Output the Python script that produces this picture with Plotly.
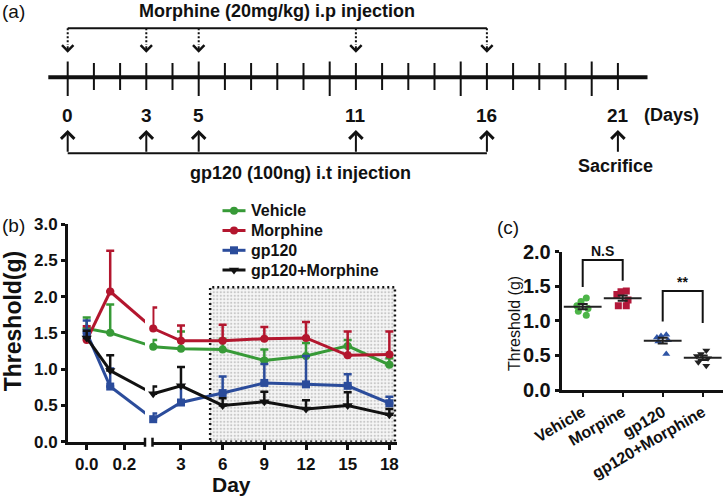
import numpy as np
import plotly.graph_objects as go

W, H = 728, 501
FONT = "Liberation Sans, Arial, sans-serif"

# ---------------- data: panel (b) ----------------
days = [0, 0.125, 1, 3, 6, 9, 12, 15, 18]
vehicle = [1.56, 1.50, 1.31, 1.28, 1.27, 1.12, 1.18, 1.32, 1.06]
vehicle_err = [0.15, 0.39, 0.09, 0.24, 0.15, 0.15, 0.18, 0.08, 0.09]
morphine = [1.40, 2.07, 1.56, 1.39, 1.39, 1.42, 1.43, 1.19, 1.20]
morphine_err = [0.19, 0.56, 0.29, 0.21, 0.22, 0.16, 0.22, 0.33, 0.32]
gp120 = [1.50, 0.76, 0.31, 0.54, 0.67, 0.81, 0.79, 0.77, 0.53]
gp120_err = [0.17, 0.25, 0.08, 0.22, 0.23, 0.26, 0.39, 0.16, 0.09]
gp120_morphine = [1.43, 0.98, 0.66, 0.77, 0.50, 0.55, 0.45, 0.50, 0.37]
gp120_morphine_err = [0.10, 0.21, 0.10, 0.26, 0.10, 0.14, 0.12, 0.18, 0.08]
series_names = ["Vehicle", "Morphine", "gp120", "gp120+Morphine"]
left_ticks = [0.0, 0.2]
right_ticks = [3, 6, 9, 12, 15, 18]
b_y_ticks = [0, 0.5, 1.0, 1.5, 2.0, 2.5, 3.0]
shade_days = [5.1, 18.4]
shade_top = 2.13

# ---------------- data: panel (c) ----------------
c_groups = ["Vehicle", "Morpine", "gp120", "gp120+Morphine"]
c_vehicle = [1.33, 1.28, 1.22, 1.18, 1.14, 1.08]
c_morpine = [1.43, 1.42, 1.38, 1.30, 1.22, 1.22]
c_gp120 = [0.80, 0.78, 0.76, 0.72, 0.70, 0.52]
c_gp120_morphine = [0.57, 0.52, 0.49, 0.46, 0.40, 0.35]
c_y_ticks = [0, 0.5, 1.0, 1.5, 2.0]
sig_labels = ["N.S", "**"]
sig_pairs = [(0, 1), (2, 3)]
sig_tops = [1.88, 1.43]
sig_leg_ends = [(1.49, 1.58), (0.99, 0.97)]

# ---------------- data: panel (a) ----------------
timeline_days = list(range(22))
major_days = [0, 5, 10, 15, 20]
morphine_days = [0, 3, 5, 11, 16]
gp120_days = [0, 3, 5, 11, 16]
label_days = [0, 3, 5, 11, 16, 21]
sacrifice_day = 21

# ---------------- layout geometry (pixels) ----------------
def pxx(p):
    return p / W


def pxy(p):
    return 1 - p / H


BL0, BL1 = 68.0, 145.0
BR0, BR1 = 152.5, 397.0
BY0, BY1 = 224.0, 441.7
left_range = [-0.0995, 0.31]
right_range = [0.95, 18.55]


def left_px(d):
    return BL0 + (d - left_range[0]) / (left_range[1] - left_range[0]) * (BL1 - BL0)


def right_px(d):
    return BR0 + (d - right_range[0]) / (right_range[1] - right_range[0]) * (BR1 - BR0)


def px_to_left(p):
    return left_range[0] + (p - BL0) / (BL1 - BL0) * (left_range[1] - left_range[0])


def px_to_right(p):
    return right_range[0] + (p - BR0) / (BR1 - BR0) * (right_range[1] - right_range[0])


CX0, CX1 = 561.7, 723.3
CY0, CY1 = 251.7, 390.0

A_DAY0_PX, A_PX_PER_DAY = 67.7, 26.2
a_range = [-A_DAY0_PX / A_PX_PER_DAY, (W - A_DAY0_PX) / A_PX_PER_DAY]
A_H = 200.0

# legend layout (pixels)
LEG_ROWS = [210.7, 230.5, 250.3, 270.0]
LEG_X0, LEG_X1, LEG_TX = 222.5, 245.5, 249.0

fig = go.Figure()

# ================= panel (b) =================
b_colors = ["#379a37", "#b3162e", "#2b4c9b", "#111111"]
b_symbols = ["circle", "circle", "square", "triangle-down"]
b_values = [vehicle, morphine, gp120, gp120_morphine]
b_errors = [vehicle_err, morphine_err, gp120_err, gp120_morphine_err]

# dotted shaded region
fig.add_trace(go.Scatter(
    x=[shade_days[0], shade_days[1], shade_days[1], shade_days[0], shade_days[0]],
    y=[0, 0, shade_top, shade_top, 0],
    mode="lines", fill="toself",
    fillcolor="#f4f4f4",
    fillpattern=dict(shape=".", size=3.5, solidity=0.35, fgcolor="#9a9a9a", bgcolor="#f6f6f6"),
    line=dict(color="#111111", width=2.5, dash="2px,3px"),
    xaxis="x2", yaxis="y", hoverinfo="skip"))

il = [i for i, d in enumerate(days) if d < 0.5]
ir = [i for i, d in enumerate(days) if d >= 0.5]

for name, vals, errs, col, sym in zip(series_names, b_values, b_errors, b_colors, b_symbols):
    msize = 9 if sym == "triangle-down" else 8
    # left segment
    fig.add_trace(go.Scatter(
        x=[days[i] for i in il], y=[vals[i] for i in il], mode="lines+markers", name=name,
        line=dict(color=col, width=3), marker=dict(color=col, symbol=sym, size=msize),
        error_y=dict(type="data", symmetric=False, array=[errs[i] for i in il],
                     arrayminus=[0] * len(il), color=col, thickness=2.5, width=4),
        xaxis="x", yaxis="y", cliponaxis=False))
    # connector across the axis break (clipped by each subplot)
    a, b = il[-1], ir[0]
    fig.add_trace(go.Scatter(
        x=[days[a], px_to_left(right_px(days[b]))], y=[vals[a], vals[b]], mode="lines",
        line=dict(color=col, width=3), xaxis="x", yaxis="y", hoverinfo="skip"))
    fig.add_trace(go.Scatter(
        x=[px_to_right(left_px(days[a])), days[b]], y=[vals[a], vals[b]], mode="lines",
        line=dict(color=col, width=3), xaxis="x2", yaxis="y", hoverinfo="skip"))
    # right segment
    fig.add_trace(go.Scatter(
        x=[days[i] for i in ir], y=[vals[i] for i in ir], mode="lines+markers", name=name,
        line=dict(color=col, width=3), marker=dict(color=col, symbol=sym, size=msize),
        error_y=dict(type="data", symmetric=False, array=[errs[i] for i in ir],
                     arrayminus=[0] * len(ir), color=col, thickness=2.5, width=4),
        xaxis="x2", yaxis="y", cliponaxis=False))

annotations = []

# legend (drawn on a full-figure overlay axis in pixel units)
for name, col, sym, ry in zip(series_names, b_colors, b_symbols, LEG_ROWS):
    msize = 9 if sym == "triangle-down" else 8
    fig.add_trace(go.Scatter(x=[LEG_X0, LEG_X1], y=[ry, ry], mode="lines",
                             line=dict(color=col, width=3), xaxis="x5", yaxis="y5", hoverinfo="skip"))
    fig.add_trace(go.Scatter(x=[(LEG_X0 + LEG_X1) / 2], y=[ry], mode="markers",
                             marker=dict(color=col, symbol=sym, size=msize),
                             xaxis="x5", yaxis="y5", hoverinfo="skip", cliponaxis=False))
    annotations.append(dict(x=LEG_TX, y=ry, xref="x5", yref="y5", text=name, showarrow=False,
                            xanchor="left", yanchor="middle",
                            font=dict(size=16, color="#111111", family=FONT, weight="bold")))

# ================= panel (c) =================
c_colors = ["#4db548", "#b3183a", "#2f55a5", "#222222"]
c_symbols = ["circle", "square", "triangle-up", "triangle-down"]
c_values = [c_vehicle, c_morpine, c_gp120, c_gp120_morphine]

for g, vals, col, sym in zip(c_groups, c_values, c_colors, c_symbols):
    fig.add_trace(go.Box(
        x=[g] * len(vals), y=vals, boxpoints="all", jitter=0.7, pointpos=0,
        fillcolor="rgba(0,0,0,0)", line=dict(width=0, color="rgba(0,0,0,0)"),
        marker=dict(color=col, symbol=sym, size=7),
        xaxis="x3", yaxis="y3", hoverinfo="y"))
    arr = np.array(vals)
    mean = arr.mean()
    sem = arr.std(ddof=1) / np.sqrt(len(arr))
    fig.add_trace(go.Scatter(
        x=[g], y=[mean], mode="markers",
        marker=dict(symbol="line-ew", size=27, line=dict(width=2, color="#222222")),
        error_y=dict(type="data", array=[sem], color="#222222", thickness=2, width=5),
        xaxis="x3", yaxis="y3", cliponaxis=False))

for (ia, ib), top, (la, lb), lab in zip(sig_pairs, sig_tops, sig_leg_ends, sig_labels):
    fig.add_trace(go.Scatter(
        x=[c_groups[ia], c_groups[ia], c_groups[ib], c_groups[ib]], y=[la, top, top, lb],
        mode="lines", line=dict(color="#111111", width=2),
        xaxis="x3", yaxis="y3", hoverinfo="skip", cliponaxis=False))
    annotations.append(dict(x=(ia + ib) / 2, y=top, xref="x3", yref="y3", text=lab,
                            showarrow=False, xanchor="center", yanchor="bottom", yshift=-1,
                            font=dict(size=14, color="#111111", family=FONT, weight="bold")))

# ================= panel (a) =================
Y_TITLE, Y_BRACKET, Y_DTIP = 11.0, 28.3, 52.7
Y_LINE = 77.3
Y_TICK_MINOR = (63.0, 90.0)
Y_TICK_MAJOR = (61.5, 96.0)
Y_DAYLAB = 115.0
Y_UTIP, Y_UBRACKET = 130.0, 153.3
Y_SACR, Y_GPTEXT = 165.5, 173.3
HEAD = 8.0

fig.add_trace(go.Scatter(x=[-0.74, 22.13], y=[Y_LINE, Y_LINE], mode="lines",
                         line=dict(color="#111111", width=4), xaxis="x4", yaxis="y4", hoverinfo="skip"))
tx, ty = [], []
for d in timeline_days:
    t0, t1 = Y_TICK_MAJOR if d in major_days else Y_TICK_MINOR
    tx += [d, d, None]
    ty += [t0, t1, None]
fig.add_trace(go.Scatter(x=tx, y=ty, mode="lines", line=dict(color="#111111", width=2),
                         xaxis="x4", yaxis="y4", hoverinfo="skip"))
fig.add_trace(go.Scatter(x=[min(morphine_days), max(morphine_days)], y=[Y_BRACKET, Y_BRACKET],
                         mode="lines", line=dict(color="#111111", width=2),
                         xaxis="x4", yaxis="y4", hoverinfo="skip"))
dx, dy = [], []
for d in morphine_days:
    dx += [d, d, None]
    dy += [Y_BRACKET, Y_DTIP - HEAD, None]
fig.add_trace(go.Scatter(x=dx, y=dy, mode="lines", line=dict(color="#111111", width=2, dash="2px,2px"),
                         xaxis="x4", yaxis="y4", hoverinfo="skip"))
for d in morphine_days:
    annotations.append(dict(x=d, y=Y_DTIP, ax=d, ay=Y_DTIP - HEAD, xref="x4", yref="y4",
                            axref="x4", ayref="y4", text="", showarrow=True, arrowhead=4,
                            arrowwidth=2, arrowsize=1.1, arrowcolor="#111111"))
fig.add_trace(go.Scatter(x=[min(gp120_days), max(gp120_days)], y=[Y_UBRACKET, Y_UBRACKET],
                         mode="lines", line=dict(color="#111111", width=2),
                         xaxis="x4", yaxis="y4", hoverinfo="skip"))
for d in gp120_days + [sacrifice_day]:
    annotations.append(dict(x=d, y=Y_UTIP, ax=d, ay=Y_UBRACKET, xref="x4", yref="y4",
                            axref="x4", ayref="y4", text="", showarrow=True, arrowhead=4,
                            arrowwidth=2, arrowsize=1.3, arrowcolor="#111111"))

bold18 = dict(size=18, color="#111111", family=FONT, weight="bold")
annotations.append(dict(x=(min(morphine_days) + max(morphine_days)) / 2, y=Y_TITLE, xref="x4", yref="y4",
                        text="Morphine (20mg/kg) i.p injection", showarrow=False, font=bold18,
                        xanchor="center", yanchor="middle"))
annotations.append(dict(x=8.87, y=Y_GPTEXT, xref="x4", yref="y4",
                        text="gp120 (100ng) i.t injection", showarrow=False, font=bold18,
                        xanchor="center", yanchor="middle"))
for d in label_days:
    annotations.append(dict(x=d, y=Y_DAYLAB, xref="x4", yref="y4", text=str(d), showarrow=False,
                            xanchor="center", yanchor="middle",
                            font=dict(size=19, color="#111111", family=FONT, weight="bold")))
annotations.append(dict(x=23.03, y=Y_DAYLAB, xref="x4", yref="y4", text="(Days)", showarrow=False,
                        font=bold18, xanchor="center", yanchor="middle"))
annotations.append(dict(x=20.9, y=Y_SACR, xref="x4", yref="y4", text="Sacrifice", showarrow=False,
                        font=bold18, xanchor="center", yanchor="middle"))

# panel labels and axis titles
plain19 = dict(size=19, color="#111111", family=FONT)
for txt, x, y, ang, fnt in [
    ("(a)", 13.5, 11.5, 0, plain19),
    ("(b)", 13.5, 226, 0, plain19),
    ("(c)", 508, 227, 0, plain19),
    ("Threshold(g)", 13.3, 321, -90, dict(size=23, color="#111111", family=FONT, weight="bold")),
    ("Day", 231, 484, 0, dict(size=21, color="#111111", family=FONT, weight="bold")),
    ("Threshold (g)", 514, 324, -90, dict(size=16, color="#111111", family=FONT)),
]:
    annotations.append(dict(x=pxx(x), y=pxy(y), xref="paper", yref="paper", text=txt, textangle=ang,
                            showarrow=False, xanchor="center", yanchor="middle", font=fnt))

# break marks on (b) x-axis
shapes = []
for p in (BL1, BR0):
    shapes.append(dict(type="line", xref="paper", yref="paper", x0=pxx(p), x1=pxx(p),
                       y0=pxy(BY1 - 4), y1=pxy(BY1 + 5), line=dict(color="#111111", width=2.5)))

axis_common = dict(showline=True, linecolor="#111111", showgrid=False, zeroline=False,
                   ticks="outside", tickcolor="#111111", automargin=False)
tick17 = dict(size=17, color="#111111", family=FONT, weight="bold")

fig.update_layout(
    width=W, height=H, margin=dict(l=0, r=0, t=0, b=0, autoexpand=False),
    paper_bgcolor="white", plot_bgcolor="rgba(0,0,0,0)",
    font=dict(family=FONT, color="#111111"),
    showlegend=False,
    xaxis=dict(domain=[pxx(BL0), pxx(BL1)], range=left_range, anchor="y",
               tickvals=left_ticks, ticktext=[f"{v:.1f}" for v in left_ticks],
               linewidth=3, ticklen=5, tickwidth=2.5, tickfont=tick17, **axis_common),
    xaxis2=dict(domain=[pxx(BR0), pxx(BR1)], range=right_range, anchor="y",
                tickvals=right_ticks, ticktext=[str(v) for v in right_ticks],
                linewidth=3, ticklen=5, tickwidth=2.5, tickfont=tick17, **axis_common),
    yaxis=dict(domain=[pxy(BY1), pxy(BY0)], range=[0, 3], anchor="x",
               tickvals=b_y_ticks, ticktext=[f"{v:.1f}" for v in b_y_ticks],
               linewidth=3, ticklen=4, tickwidth=2.5, tickfont=tick17, **axis_common),
    xaxis3=dict(domain=[pxx(CX0), pxx(CX1)], range=[-0.525, 3.515], anchor="y3",
                type="category", categoryorder="array", categoryarray=c_groups,
                tickangle=-30, linewidth=3, ticklen=4, tickwidth=2,
                tickfont=dict(size=16, color="#111111", family=FONT, weight="bold"), **axis_common),
    yaxis3=dict(domain=[pxy(CY1), pxy(CY0)], range=[0, 2], anchor="x3",
                tickvals=c_y_ticks, ticktext=[f"{v:.1f}" for v in c_y_ticks],
                linewidth=3, ticklen=4, tickwidth=2.5,
                tickfont=dict(size=20, color="#111111", family=FONT, weight="bold"), **axis_common),
    xaxis4=dict(domain=[0, 1], range=a_range, anchor="y4", visible=False, fixedrange=True, automargin=False),
    yaxis4=dict(domain=[pxy(A_H), 1], range=[A_H, 0], anchor="x4", visible=False, fixedrange=True,
                automargin=False),
    xaxis5=dict(domain=[0, 1], range=[0, W], anchor="y5", visible=False, fixedrange=True, automargin=False),
    yaxis5=dict(domain=[0, 1], range=[H, 0], anchor="x5", visible=False, fixedrange=True, automargin=False),
    annotations=annotations,
    shapes=shapes,
)

fig.write_html("out.html", post_script="document.body.style.margin='0';",
               config={"displayModeBar": False})
